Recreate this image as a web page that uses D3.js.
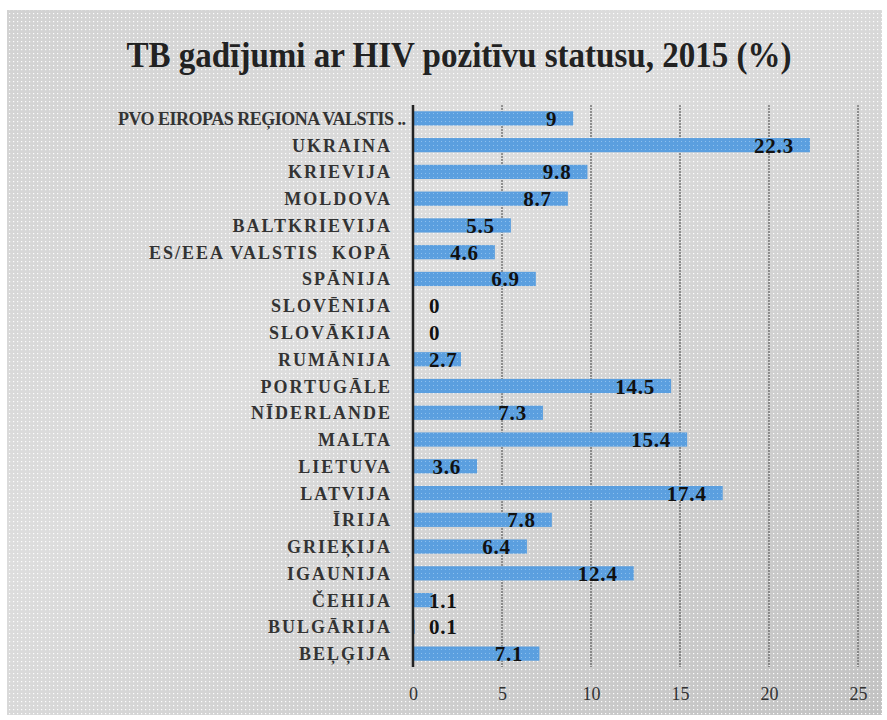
<!DOCTYPE html>
<html>
<head>
<meta charset="utf-8">
<script src="https://cdn.jsdelivr.net/npm/d3@7"></script>
<style>
  body { margin: 0; background: #fff; }
  svg { display: block; }
</style>
</head>
<body>
<div id="chart"></div>
<script>
// data (top to bottom)
var countries = ["PVO EIROPAS REĢIONA VALSTIS ..", "UKRAINA", "KRIEVIJA", "MOLDOVA", "BALTKRIEVIJA",
  "ES/EEA VALSTIS  KOPĀ", "SPĀNIJA", "SLOVĒNIJA", "SLOVĀKIJA", "RUMĀNIJA", "PORTUGĀLE", "NĪDERLANDE",
  "MALTA", "LIETUVA", "LATVIJA", "ĪRIJA", "GRIEĶIJA", "IGAUNIJA", "ČEHIJA", "BULGĀRIJA", "BEĻĢIJA"];
var values = [9, 22.3, 9.8, 8.7, 5.5, 4.6, 6.9, 0, 0, 2.7, 14.5, 7.3, 15.4, 3.6, 17.4, 7.8, 6.4, 12.4, 1.1, 0.1, 7.1];
var ticks = [0, 5, 10, 15, 20, 25];
var title = "TB gadījumi ar HIV pozitīvu statusu, 2015 (%)";

var W = 887, H = 720;
var svg = d3.select("#chart").append("svg")
  .attr("width", W).attr("height", H);

var defs = svg.append("defs");
var grad = defs.append("linearGradient").attr("id", "bg")
  .attr("x1", 0).attr("y1", 0).attr("x2", 1).attr("y2", 1);
grad.append("stop").attr("offset", "0%").attr("stop-color", "#d2d2d2");
grad.append("stop").attr("offset", "40%").attr("stop-color", "#dddddd");
grad.append("stop").attr("offset", "100%").attr("stop-color", "#c2c2c2");

var dots = defs.append("pattern").attr("id", "dots")
  .attr("width", 4).attr("height", 4).attr("patternUnits", "userSpaceOnUse");
dots.append("rect").attr("x", 1).attr("y", 1).attr("width", 1.2).attr("height", 1.2)
  .attr("fill", "#fff").attr("opacity", 0.95);

var barPat = defs.append("pattern").attr("id", "bardots")
  .attr("width", 4).attr("height", 4).attr("patternUnits", "userSpaceOnUse");
barPat.append("rect").attr("width", 4).attr("height", 4).attr("fill", "#5b9fdf");
barPat.append("rect").attr("x", 1).attr("y", 1).attr("width", 1).attr("height", 1)
  .attr("fill", "#8cc0ee");

// panel background
svg.append("rect").attr("x", 7).attr("y", 10).attr("width", 875).attr("height", 705)
  .attr("fill", "url(#bg)");
svg.append("rect").attr("x", 7).attr("y", 10).attr("width", 875).attr("height", 705)
  .attr("fill", "url(#dots)");

// title
svg.append("text")
  .attr("x", 459).attr("y", 67)
  .attr("text-anchor", "middle")
  .attr("font-family", "Liberation Serif")
  .attr("font-weight", "bold")
  .attr("font-size", "36px")
  .attr("fill", "#222")
  .attr("textLength", 665)
  .attr("lengthAdjust", "spacingAndGlyphs")
  .text(title);

// scales
var x = d3.scaleLinear().domain([0, 25]).range([413, 858]);
var y = d3.scaleBand().domain(countries).range([105, 667])
  .paddingInner(0.47).paddingOuter(0.235);

// gridlines
svg.append("g").selectAll("line")
  .data(ticks.slice(1))
  .enter().append("line")
  .attr("x1", function(d) { return x(d); })
  .attr("x2", function(d) { return x(d); })
  .attr("y1", 105).attr("y2", 667)
  .attr("stroke", "#666")
  .attr("stroke-width", 1.3)
  .attr("stroke-dasharray", "2,1");

// x axis labels
var xAxis = d3.axisBottom(x).tickValues(ticks).tickSize(0).tickPadding(0);
var gx = svg.append("g").attr("transform", "translate(0,687)").call(xAxis);
gx.select(".domain").remove();
gx.selectAll("text")
  .attr("font-family", "Liberation Serif")
  .attr("font-size", "18px")
  .attr("fill", "#333")
  .attr("dy", "0.71em");

// bars
svg.append("g").selectAll("rect")
  .data(values)
  .enter().append("rect")
  .attr("x", x(0))
  .attr("y", function(d, i) { return y(countries[i]); })
  .attr("width", function(d) { return x(d) - x(0); })
  .attr("height", y.bandwidth())
  .attr("fill", "url(#bardots)");

// zero axis line
svg.append("line")
  .attr("x1", x(0)).attr("x2", x(0))
  .attr("y1", 105).attr("y2", 667)
  .attr("stroke", "#222").attr("stroke-width", 2.5);

// category labels (the cut-off first label has tighter spacing, like in the original)
svg.append("g").selectAll("text")
  .data(countries)
  .enter().append("text")
  .attr("x", function(d) { return d.slice(-2) === ".." ? 406 : 392; })
  .attr("y", function(d) { return y(d) + y.bandwidth() / 2 + 6.5; })
  .attr("text-anchor", "end")
  .attr("font-family", "Liberation Serif")
  .attr("font-weight", "bold")
  .attr("font-size", "18px")
  .attr("letter-spacing", function(d) { return d.slice(-2) === ".." ? "0px" : "2px"; })
  .attr("fill", "#333")
  .style("white-space", "pre")
  .each(function(d) {
    if (d.slice(-2) === "..") {
      d3.select(this).attr("textLength", 288).attr("lengthAdjust", "spacing");
    }
  })
  .text(function(d) { return d; });

// value labels: inside end, but never closer than 16px to the axis
var vl = svg.append("g").selectAll("text")
  .data(values)
  .enter().append("text")
  .attr("y", function(d, i) { return y(countries[i]) + y.bandwidth() / 2 + 7.5; })
  .attr("font-family", "Liberation Serif")
  .attr("font-weight", "bold")
  .attr("font-size", "21px")
  .attr("letter-spacing", "0.8px")
  .attr("fill", "#111")
  .text(function(d) { return d; });
vl.attr("x", function(d) {
  var w = this.getComputedTextLength();
  return Math.max(x(0) + 16, x(d) - 16 - w);
});
</script>
</body>
</html>
